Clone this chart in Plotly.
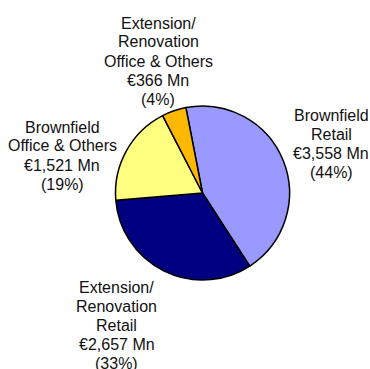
import plotly.graph_objects as go

# Development pipeline split by segment (EUR millions)
segments = [
    "Brownfield<br>Retail",
    "Extension/<br>Renovation<br>Retail",
    "Brownfield<br>Office & Others",
    "Extension/<br>Renovation<br>Office & Others",
]
values_mn = [3558, 2657, 1521, 366]
shares_pct = [44, 33, 19, 4]
colors = ["#9999FF", "#000080", "#FFFF80", "#FFB800"]

W, H = 370, 369

# label block centre (px from left) and first-line centre (px from top)
label_anchor = [(331, 115.5), (116.5, 287), (62, 127), (158, 23)]
LINE_PX = 19.0

fig = go.Figure()

cx, cy, r = 202.5, 193.0, 87.0
fig.add_trace(go.Pie(
    labels=[s.replace("<br>", " ") for s in segments],
    values=values_mn,
    sort=False,
    direction="clockwise",
    rotation=-11,
    marker=dict(colors=colors, line=dict(color="#000000", width=1.5)),
    textinfo="none",
    hoverinfo="label+value+percent",
    domain=dict(x=[(cx - r) / W, (cx + r) / W],
                y=[1 - (cy + r) / H, 1 - (cy - r) / H]),
    showlegend=False,
))

annotations = []
for seg, val, pct, (ax, ay) in zip(segments, values_mn, shares_pct, label_anchor):
    lines = seg.split("<br>") + [f"€{val:,} Mn", f"({pct}%)"]
    for i, line in enumerate(lines):
        annotations.append(dict(
            x=ax / W, y=1 - (ay + i * LINE_PX) / H,
            xref="paper", yref="paper",
            xanchor="center", yanchor="middle",
            text=line, showarrow=False,
            font=dict(family="Liberation Sans, Arial, sans-serif", size=16, color="#111111"),
        ))

# heading sits above the visible area; only its descenders reach the top edge
annotations.append(dict(
    x=14 / W, y=1 + 14.5 / H, xref="paper", yref="paper",
    xanchor="left", yanchor="middle",
    text="<b>Development pipeline by category</b>", showarrow=False,
    font=dict(family="Liberation Serif, Times New Roman, serif", size=25, color="#000000"),
))

fig.update_layout(
    width=W, height=H,
    margin=dict(l=0, r=0, t=0, b=0),
    paper_bgcolor="#FFFFFF",
    plot_bgcolor="#FFFFFF",
    annotations=annotations,
)

fig.write_html("out.html")
